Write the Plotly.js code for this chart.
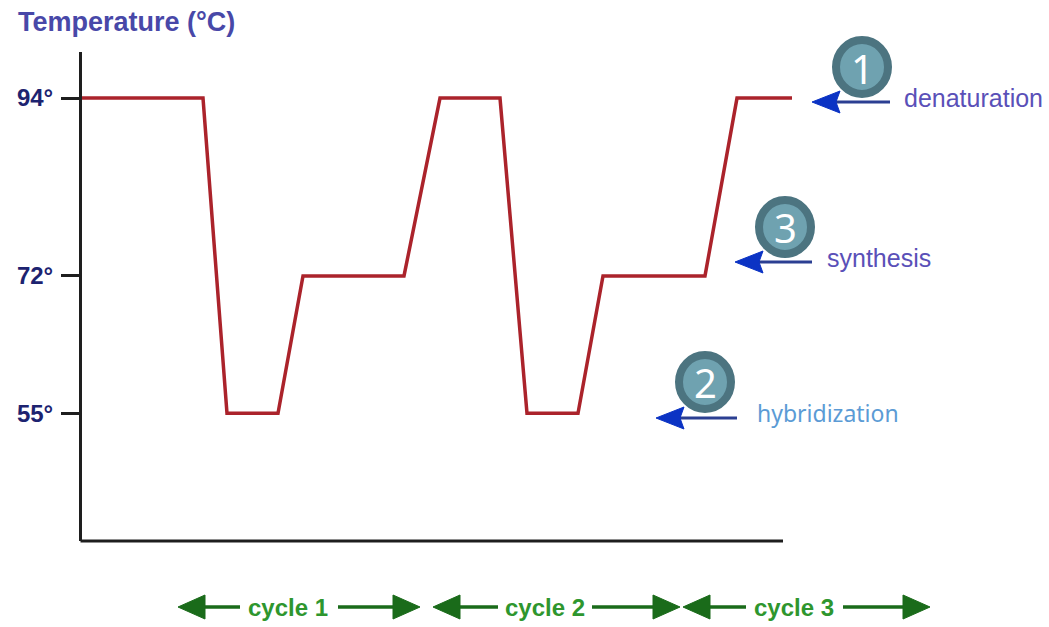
<!DOCTYPE html>
<html>
<head>
<meta charset="utf-8">
<script src="https://cdn.plot.ly/plotly-3.0.1.min.js"></script>
<style>html,body{margin:0;padding:0;background:#fff;}#chart{width:1049px;height:627px;}</style>
</head>
<body>
<div id="chart"></div>
<script>
// ---- data ----
const time = [0, 12.1, 14.5, 19.6, 22.1, 32.2, 35.8, 41.8, 44.5, 49.6, 52.1, 62.3, 65.5, 71.0];
const temperature = [94, 94, 55, 55, 72, 72, 94, 94, 55, 55, 72, 72, 94, 94];
const tickValues = [55, 72, 94];
const tickLabels = ['55°', '72°', '94°'];
const stepNumbers = ['1', '3', '2'];
const stepNames = ['denaturation', 'synthesis', 'hybridization'];
const cycleLabels = ['cycle 1', 'cycle 2', 'cycle 3'];

// ---- layout geometry (pixels) ----
const W = 1049, H = 627;
const L = 82, R = 802, T = 52, B = 541;
const PW = R - L, PH = B - T;
const px = v => (v - L) / PW;
const py = v => (B - v) / PH;

const shapes = [];
const annotations = [];

// x axis line (ends before plot edge)
shapes.push({type:'line', xref:'paper', yref:'paper', x0:px(80.5), x1:px(783), y0:0, y1:0,
  line:{color:'#1e1e1e', width:3}});

// step markers: circle + number + arrow + label
const stepGeom = [
  {cx:862, cy:67, tip:812, tail:890, ay:102, lx:902, ly:98, col:'#5a50b8', font:'Liberation Sans', size:25},
  {cx:785, cy:227, tip:735, tail:812, ay:262, lx:825, ly:258, col:'#5a50b8', font:'Liberation Sans', size:25},
  {cx:705, cy:382, tip:656, tail:737, ay:418, lx:755, ly:413, col:'#5b9bd5', font:'Noto Sans', size:23}
];
stepGeom.forEach((g, i) => {
  shapes.push({type:'line', xref:'paper', yref:'paper', x0:px(g.tip+20), x1:px(g.tail), y0:py(g.ay), y1:py(g.ay),
    line:{color:'#2b3f92', width:3}});
  shapes.push({type:'path', xref:'paper', yref:'paper',
    path:`M ${px(g.tip)} ${py(g.ay)} L ${px(g.tip+28)} ${py(g.ay-11)} L ${px(g.tip+24)} ${py(g.ay)} L ${px(g.tip+28)} ${py(g.ay+11)} Z`,
    fillcolor:'#0b33c4', line:{color:'#0b33c4', width:1}});
  shapes.push({type:'circle', xref:'paper', yref:'paper', x0:px(g.cx-26), x1:px(g.cx+26), y0:py(g.cy+27), y1:py(g.cy-27),
    fillcolor:'#6fa2b0', line:{color:'#4c7480', width:8}});
  annotations.push({xref:'paper', yref:'paper', x:px(g.cx), y:py(g.cy+1), text:stepNumbers[i], showarrow:false,
    xanchor:'center', yanchor:'middle', font:{family:'Noto Sans, Open Sans, sans-serif', size:40, color:'#ffffff'}});
  annotations.push({xref:'paper', yref:'paper', x:px(g.lx), y:py(g.ly), text:stepNames[i], showarrow:false,
    xanchor:'left', yanchor:'middle', font:{family:g.font, size:g.size, color:g.col}});
});

// cycle arrows
const cycleGeom = [
  {l:178, r:420, tl:240, tr:338, c:288},
  {l:433, r:680, tl:498, tr:592, c:545},
  {l:683, r:930, tl:746, tr:843, c:794}
];
const cy = 607;
cycleGeom.forEach((g, i) => {
  const green = '#1a6b1a';
  shapes.push({type:'line', xref:'paper', yref:'paper', x0:px(g.l+20), x1:px(g.tl), y0:py(cy), y1:py(cy), line:{color:green, width:3.5}});
  shapes.push({type:'line', xref:'paper', yref:'paper', x0:px(g.tr), x1:px(g.r-20), y0:py(cy), y1:py(cy), line:{color:green, width:3.5}});
  shapes.push({type:'path', xref:'paper', yref:'paper',
    path:`M ${px(g.l)} ${py(cy)} L ${px(g.l+27)} ${py(cy-12)} L ${px(g.l+27)} ${py(cy+12)} Z`,
    fillcolor:green, line:{color:green, width:1}});
  shapes.push({type:'path', xref:'paper', yref:'paper',
    path:`M ${px(g.r)} ${py(cy)} L ${px(g.r-27)} ${py(cy-12)} L ${px(g.r-27)} ${py(cy+12)} Z`,
    fillcolor:green, line:{color:green, width:1}});
  annotations.push({xref:'paper', yref:'paper', x:px(g.c), y:py(cy), text:cycleLabels[i], showarrow:false,
    xanchor:'center', yanchor:'middle', font:{family:'Liberation Sans', size:24, weight:'bold', color:'#2e962e'}});
});

const trace = {
  x: time, y: temperature, type:'scatter', mode:'lines',
  line:{color:'#ab232b', width:3.5},
  hoverinfo:'skip'
};

const layout = {
  width: W, height: H,
  margin:{l:L, r:W-R, t:T, b:H-B, pad:0},
  paper_bgcolor:'#ffffff', plot_bgcolor:'#ffffff',
  showlegend:false,
  title:{text:'Temperature (°C)', xref:'container', yref:'container', x:18/W, xanchor:'left', y:1-22/H, yanchor:'middle',
    font:{family:'Liberation Sans', size:27, weight:'bold', color:'#4848a8'}},
  xaxis:{range:[0, 72], visible:false, showgrid:false, zeroline:false, fixedrange:true},
  yaxis:{range:[39.2, 99.7], showline:true, linecolor:'#1e1e1e', linewidth:3, showgrid:false, zeroline:false,
    ticks:'outside', ticklen:18, tickwidth:3, tickcolor:'#1e1e1e',
    tickvals: tickValues, ticktext: tickLabels, ticklabelstandoff:3,
    tickfont:{family:'Liberation Sans', size:24, weight:'bold', color:'#1d2370'}, fixedrange:true},
  shapes: shapes,
  annotations: annotations
};

Plotly.newPlot('chart', [trace], layout, {displayModeBar:false, staticPlot:true});
</script>
</body>
</html>
